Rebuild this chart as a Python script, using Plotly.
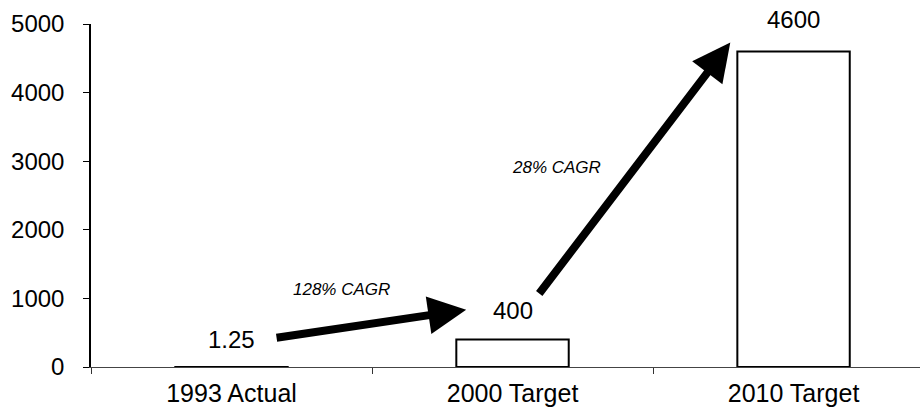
import plotly.graph_objects as go

categories = ["1993 Actual", "2000 Target", "2010 Target"]
values = [1.25, 400, 4600]
value_labels = ["1.25", "400", "4600"]
growth_labels = ["128% CAGR", "28% CAGR"]
y_ticks = [0, 1000, 2000, 3000, 4000, 5000]

FONT = "Arial, Liberation Sans, sans-serif"

fig = go.Figure()
fig.add_trace(go.Bar(
    x=categories, y=values, width=0.4,
    marker=dict(color="white", line=dict(color="black", width=2)),
    showlegend=False, hoverinfo="skip",
))

# value labels
shifts = [(0, 12), (0, 14), (0, 16)]
for i, (c, v, t) in enumerate(zip(categories, values, value_labels)):
    fig.add_annotation(x=c, y=v, text=t, showarrow=False, yanchor="bottom",
                       xshift=shifts[i][0], yshift=shifts[i][1],
                       font=dict(family=FONT, size=24, color="black"))

# growth arrows (data coords on numeric overlay axis x2)
arrows = [
    ((0.155, 423), (0.835, 835)),
    ((1.091, 1050), (1.775, 4730)),
]
for (x0, y0), (x1, y1) in arrows:
    fig.add_annotation(x=x1, y=y1, ax=x0, ay=y0, xref="x2", yref="y",
                       axref="x2", ayref="y", showarrow=True, text="",
                       arrowhead=2, arrowsize=0.95, arrowwidth=8,
                       arrowcolor="black")

fig.add_annotation(x=0.393, y=1125, xref="x2", yref="y", text="<i>" + growth_labels[0] + "</i>",
                   showarrow=False, font=dict(family=FONT, size=17, color="black"))
fig.add_annotation(x=1.158, y=2910, xref="x2", yref="y", text="<i>" + growth_labels[1] + "</i>",
                   showarrow=False, font=dict(family=FONT, size=17, color="black"))

fig.update_layout(
    width=922, height=418,
    margin=dict(l=91, r=2, t=24, b=51),
    plot_bgcolor="white", paper_bgcolor="white",
    font=dict(family=FONT, size=25, color="black"),
    xaxis=dict(type="category", range=[-0.5, 2.45], tickson="boundaries",
               ticks="outside", ticklen=6, tickcolor="#333", showline=True,
               linecolor="#444", linewidth=1.2, showgrid=False, automargin=False,
               tickfont=dict(size=25), ticklabelstandoff=4),
    xaxis2=dict(range=[-0.5, 2.45], overlaying="x", visible=False),
    yaxis=dict(range=[0, 5000], tickvals=y_ticks, ticks="outside", ticklen=6,
               tickcolor="black", showline=True, linecolor="black", linewidth=1.5,
               showgrid=False, zeroline=False, tickfont=dict(size=24),
               ticklabelstandoff=14, automargin=False),
)

fig.write_html("out.html", config={"displayModeBar": False},
               post_script="document.body.style.margin='0';document.body.style.overflow='hidden';")
